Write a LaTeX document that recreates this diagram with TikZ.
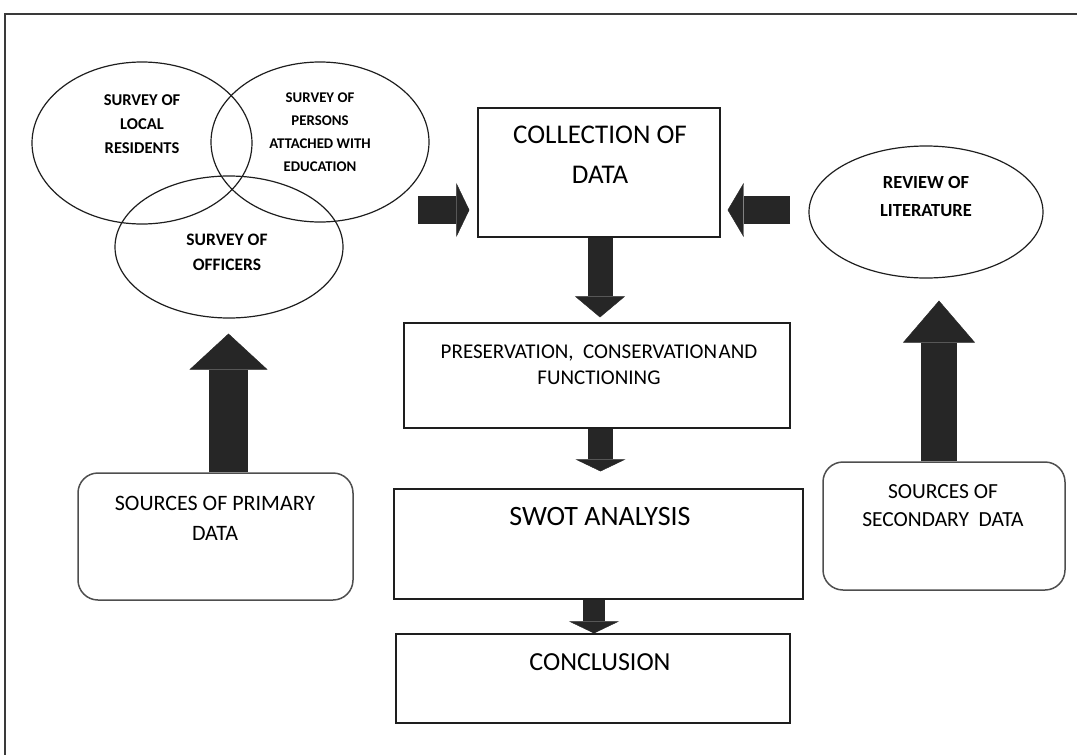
\documentclass[tikz,border=0pt]{standalone}
\usepackage{fontspec}
\setmainfont{Carlito}
\usetikzlibrary{shapes.geometric,arrows.meta,calc}
\definecolor{arr}{HTML}{262626}
\definecolor{edge}{HTML}{1E1E1E}
\definecolor{frame}{HTML}{3A3A3A}
\newcommand{\fsz}[2]{\fontsize{#1}{#2}\selectfont}
\begin{document}
\begin{tikzpicture}[x=1pt,y=-1pt,
  box/.style={draw=edge, line width=1.3pt, rectangle, inner sep=0pt},
  rbox/.style={draw=frame!90, line width=1.5pt, rectangle, rounded corners=20pt, inner sep=0pt},
  ell/.style={draw=edge, line width=1.2pt, ellipse, inner sep=0pt},
  txt/.style={align=center, inner sep=0pt, text=black},
  blockarrow/.style n args={3}{draw=arr, line width=#1pt,
     -{Triangle[length=#3pt, width=#2pt, line width=0.4pt, fill=arr]}}
]
\useasboundingbox (0,0) rectangle (1077,755);
% frame
\draw[frame, line width=2.2pt] (1080,14) -- (5,14) -- (5,760);

% ellipses (Venn)
\node[ell, minimum width=220pt, minimum height=162pt] (loc) at (142,143) {};
\node[ell, minimum width=218pt, minimum height=160pt] (per) at (320,142) {};
\node[ell, minimum width=228pt, minimum height=142pt] (off) at (229,247) {};
\node[txt, font=\bfseries\fsz{16.5}{24}] (locT) at (142,124) {SURVEY OF\\LOCAL\\RESIDENTS};
\node[txt, font=\bfseries\fsz{14.8}{23}] (perT) at (320,132.5) {SURVEY OF\\PERSONS\\ATTACHED WITH\\EDUCATION};
\node[txt, font=\bfseries\fsz{17.5}{25}] (offT) at (227,252.5) {SURVEY OF\\OFFICERS};

% review ellipse
\node[ell, minimum width=234pt, minimum height=132pt] (rev) at (926,212) {};
\node[txt, font=\bfseries\fsz{18.5}{28}] (revT) at (926,196) {REVIEW OF\\LITERATURE};

% central boxes
\node[box, minimum width=242pt, minimum height=129pt] (coll) at (599,172.5) {};
\node[txt, font=\fsz{27}{40}] (collT) at (600,155) {COLLECTION OF\\DATA};

\node[box, minimum width=386pt, minimum height=105pt] (pres) at (597,375.5) {};
\node[txt, font=\fsz{21}{26}] (presT) at (599,365) {PRESERVATION,\ \ CONSERVATION\hspace{1.5pt}AND\\FUNCTIONING};

\node[box, minimum width=409pt, minimum height=110pt] (swot) at (598.5,544) {};
\node[txt, font=\fsz{28}{34}] (swotT) at (600,517) {SWOT ANALYSIS};

\node[box, minimum width=394pt, minimum height=89pt] (concl) at (593,678.5) {};
\node[txt, font=\fsz{26}{32}] (conclT) at (600,662) {CONCLUSION};

% source boxes
\node[rbox, minimum width=275pt, minimum height=127pt] (srcP) at (215.5,536.5) {};
\node[txt, font=\fsz{22}{30}] (srcPT) at (215,518) {SOURCES OF PRIMARY\\DATA};

\node[rbox, minimum width=242pt, minimum height=128pt] (srcS) at (944,526) {};
\node[txt, font=\fsz{21.5}{28}] (srcST) at (943,506) {SOURCES OF\\SECONDARY\ \ DATA};

% block arrows
\coordinate (a1s) at (418,210);
\coordinate (a2s) at (790,210);
\draw[blockarrow={28}{54}{13}, shorten >=8pt] (a1s) -- (a1s -| coll.west);
\draw[blockarrow={28}{54}{16}, shorten >=7pt] (a2s) -- (a2s -| coll.east);

\draw[blockarrow={25}{50}{21}, shorten >=5pt] ($(coll.south)+(1,0)$) -- ($(coll.south |- pres.north)+(1,0)$);
\draw[blockarrow={25}{50}{12}, shorten >=17pt] ($(pres.south)+(3.5,0)$) -- ($(pres.south |- swot.north)+(3.5,0)$);
\draw[blockarrow={22}{50}{12}, shorten >=0pt] ($(swot.south)+(-4.5,0)$) -- ($(swot.south |- concl.north)+(-4.5,0)$);

\draw[blockarrow={39}{78}{36}, shorten >=15pt] ($(srcP.north)+(13,0)$) -- ($(srcP.north |- off.south)+(13,0)$);
\draw[blockarrow={36}{72}{42}, shorten >=22pt] ($(srcS.north)+(-5,0)$) -- ($(srcS.north |- rev.south)+(-5,0)$);
\end{tikzpicture}
\end{document}
